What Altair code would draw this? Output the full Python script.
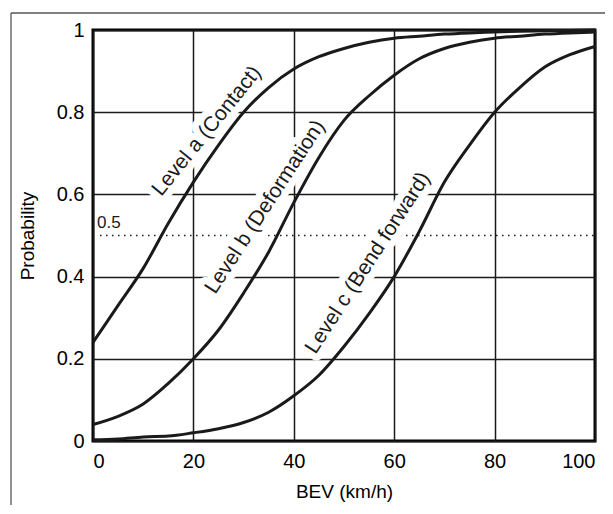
import altair as alt
import pandas as pd

# ---- data ----
speed = [0, 5, 10, 15, 20, 25, 30, 35, 40, 45, 50, 55, 60, 65, 70, 75, 80, 85, 90, 95, 100]
level_a = [0.24, 0.33, 0.42, 0.53, 0.63, 0.72, 0.80, 0.86, 0.905, 0.935, 0.955, 0.97, 0.98,
           0.985, 0.99, 0.993, 0.995, 0.997, 0.998, 0.999, 1.0]
level_b = [0.04, 0.06, 0.09, 0.14, 0.20, 0.27, 0.36, 0.46, 0.58, 0.69, 0.78, 0.84, 0.89,
           0.93, 0.955, 0.97, 0.98, 0.985, 0.99, 0.993, 0.995]
level_c = [0.003, 0.005, 0.01, 0.012, 0.02, 0.03, 0.045, 0.07, 0.11, 0.16, 0.23, 0.31, 0.40,
           0.51, 0.63, 0.72, 0.80, 0.86, 0.91, 0.94, 0.96]

series_names = ["Level a (Contact)", "Level b (Deformation)", "Level c (Bend forward)"]
label_x = [22.7, 34.3, 54.8]
label_y = [0.754, 0.569, 0.433]
label_angle = [309, 303, 303]

threshold = 0.5
threshold_label = "0.5"
x_ticks = [0, 20, 40, 60, 80, 100]
y_ticks = [0, 0.2, 0.4, 0.6, 0.8, 1]

FONT = "Liberation Sans"
INK = "#1a1a1a"

rows = []
for name, vals in zip(series_names, [level_a, level_b, level_c]):
    for s, v in zip(speed, vals):
        rows.append({"series": name, "speed": s, "p": v})
curves = pd.DataFrame(rows)

labels = pd.DataFrame({"series": series_names, "x": label_x, "y": label_y, "angle": label_angle})
thr = pd.DataFrame({"x": [1.4], "x2": [100], "y": [threshold], "lab": [threshold_label]})

xs = alt.Scale(domain=[0, 100], nice=False)
ys = alt.Scale(domain=[0, 1], nice=False)

base_x = alt.X("speed:Q", scale=xs,
               axis=alt.Axis(values=x_ticks, title="BEV (km/h)", grid=True, format="~r"))
base_y = alt.Y("p:Q", scale=ys,
               axis=alt.Axis(values=y_ticks, title="Probability", grid=True, format="~r"))

frame_h = alt.Chart(pd.DataFrame({"k": [0]})).mark_rule(color="#555555", strokeWidth=1.3).encode(
    x=alt.value(-82), x2=alt.value(520), y=alt.value(-17))
frame_v = alt.Chart(pd.DataFrame({"k": [0]})).mark_rule(color="#555555", strokeWidth=1.3).encode(
    x=alt.value(-82), y=alt.value(-17), y2=alt.value(484))

dotted = alt.Chart(thr).mark_rule(color=INK, strokeWidth=1.5, strokeDash=[1.5, 4.5]).encode(
    x=alt.X("x:Q", scale=xs), x2="x2:Q", y=alt.Y("y:Q", scale=ys))

halo = alt.Chart(labels).mark_text(font=FONT, fontSize=21, fill="white", stroke="white",
                                   strokeWidth=14, strokeJoin="round",
                                   align="center", baseline="middle").encode(
    x=alt.X("x:Q", scale=xs), y=alt.Y("y:Q", scale=ys), text="series:N", angle=alt.Angle("angle:Q", scale=None))

lines = alt.Chart(curves).mark_line(color=INK, strokeWidth=3, interpolate="monotone").encode(
    x=base_x, y=base_y, detail="series:N")

text = alt.Chart(labels).mark_text(font=FONT, fontSize=21, color=INK,
                                   align="center", baseline="middle").encode(
    x=alt.X("x:Q", scale=xs), y=alt.Y("y:Q", scale=ys), text="series:N", angle=alt.Angle("angle:Q", scale=None))

thr_text = alt.Chart(thr).mark_text(font=FONT, fontSize=17, color=INK, align="left",
                                    baseline="alphabetic", dx=-3, dy=-7.5).encode(
    x=alt.X("x:Q", scale=xs), y=alt.Y("y:Q", scale=ys), text="lab:N")

chart = alt.layer(frame_h, frame_v, dotted, halo, lines, text, thr_text).properties(
    width=502, height=411,
    autosize=alt.AutoSizeParams(type="none"),
    padding={"left": 85, "top": 22, "right": 10, "bottom": 64},
).configure_view(
    stroke="black", strokeWidth=3
).configure_axis(
    domain=False, ticks=False, gridColor=INK, gridWidth=1.5, gridOpacity=1,
    labelFont=FONT, labelFontSize=20, labelColor="black", labelPadding=9,
    titleFont=FONT, titleFontSize=19, titleFontWeight="normal", titleColor="black",
).configure_axisX(labelPadding=10, titlePadding=11).configure_axisY(titlePadding=19)

chart.save("out.html", embed_options={"renderer": "svg", "actions": False})
